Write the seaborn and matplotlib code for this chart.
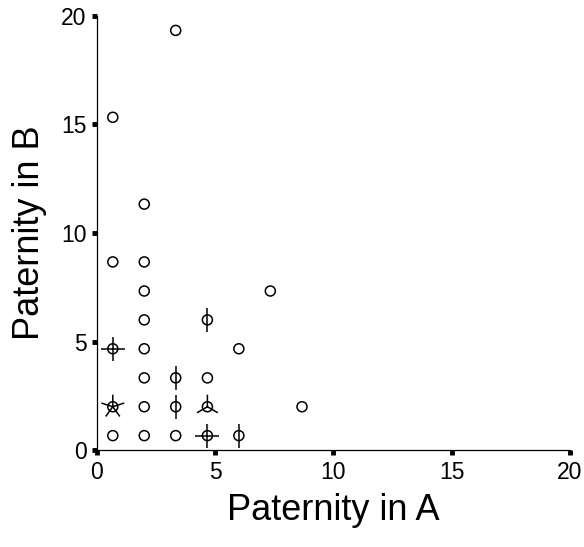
import matplotlib
matplotlib.use("Agg")
import matplotlib.pyplot as plt
import numpy as np
import pandas as pd
import seaborn as sns
from matplotlib.path import Path

# paternity share observed in pair A vs pair B; count = number of identical observations
paternity_a = [0.67, 0.67, 0.67, 0.67, 0.67,
               2, 2, 2, 2, 2, 2, 2, 2,
               3.33, 3.33, 3.33, 3.33,
               4.67, 4.67, 4.67, 4.67,
               6, 6, 7.33, 8.67]
paternity_b = [0.67, 2, 4.67, 8.67, 15.33,
               0.67, 2, 3.33, 4.67, 6, 7.33, 8.67, 11.33,
               0.67, 2, 3.33, 19.33,
               0.67, 2, 3.33, 6,
               0.67, 4.67, 7.33, 2]
counts = [1, 5, 4, 1, 1,
          1, 1, 1, 1, 1, 1, 1, 1,
          1, 2, 2, 1,
          4, 3, 1, 2,
          2, 1, 1, 1]

df = pd.DataFrame({"a": paternity_a, "b": paternity_b, "n": counts})


def petal_marker(n):
    # sunflower petals: n spokes from the centre, first one pointing up
    verts, codes = [], []
    for k in range(n):
        ang = np.pi / 2 + 2 * np.pi * k / n
        verts += [(0, 0), (np.cos(ang), np.sin(ang))]
        codes += [Path.MOVETO, Path.LINETO]
    return Path(verts, codes)


sns.set_style("ticks")
plt.rcParams["font.family"] = ["Liberation Sans", "DejaVu Sans"]
plt.rcParams["text.color"] = "black"
plt.rcParams["axes.labelcolor"] = "black"

fig = plt.figure(figsize=(5.84, 5.47), dpi=100)
ax = fig.add_axes([0.166, 0.177, 0.81, 0.794])

sns.scatterplot(data=df, x="a", y="b", ax=ax, marker="o", s=52,
                facecolor="none", edgecolor="black", linewidth=1.1,
                legend=False)

for n in sorted(df["n"].unique()):
    if n < 2:
        continue
    sub = df[df["n"] == n]
    sns.scatterplot(data=sub, x="a", y="b", ax=ax, marker=petal_marker(n),
                    s=300, facecolor="none", edgecolor="black", linewidth=1.1,
                    legend=False)

ax.set_xlim(0, 20)
ax.set_ylim(0, 20)
ax.set_xticks([0, 5, 10, 15, 20])
ax.set_yticks([0, 5, 10, 15, 20])
sns.despine(ax=ax)
for sp in ["left", "bottom"]:
    ax.spines[sp].set_linewidth(0.9)
    ax.spines[sp].set_color("black")
ax.tick_params(direction="out", length=3.5, width=3.5, color="black",
               labelsize=16.5, pad=4, labelcolor="black")

ax.set_xlabel("Paternity in A", fontsize=26, labelpad=7)
ax.set_ylabel("Paternity in B", fontsize=26, labelpad=10)

fig.savefig("out.png", dpi=100)
